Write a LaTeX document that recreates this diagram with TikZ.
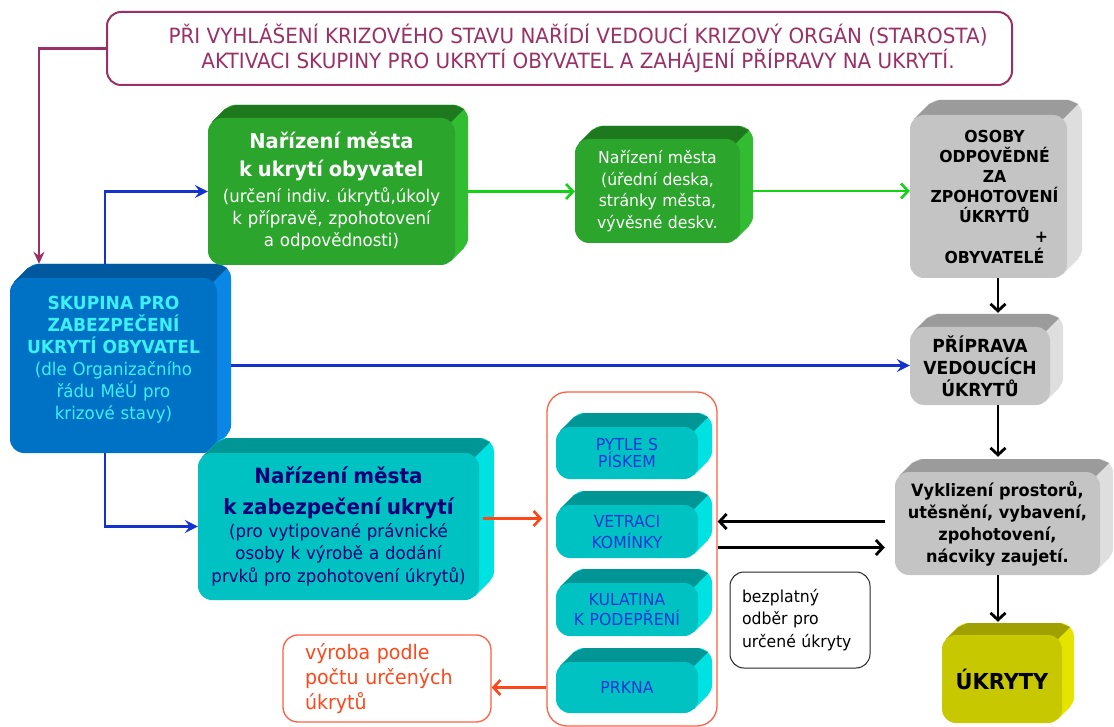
\documentclass[tikz,border=0pt]{standalone}
\usepackage{fontspec}
\setmainfont{DejaVu Sans}[FakeStretch=0.95]
\usetikzlibrary{arrows.meta}
\frenchspacing

\definecolor{grF}{RGB}{44,165,44}
\definecolor{grT}{RGB}{30,120,30}
\definecolor{grS}{RGB}{50,188,50}
\definecolor{blF}{RGB}{0,114,198}
\definecolor{blT}{RGB}{0,88,158}
\definecolor{blS}{RGB}{10,134,230}
\definecolor{cyF}{RGB}{0,194,194}
\definecolor{cyT}{RGB}{0,150,150}
\definecolor{cyS}{RGB}{0,226,226}
\definecolor{gyF}{RGB}{196,196,196}
\definecolor{gyT}{RGB}{155,155,155}
\definecolor{gyS}{RGB}{222,222,222}
\definecolor{ylF}{RGB}{200,200,0}
\definecolor{ylT}{RGB}{160,160,0}
\definecolor{ylS}{RGB}{228,228,0}
\definecolor{bannerc}{RGB}{153,48,102}
\definecolor{bluec}{RGB}{20,50,205}
\definecolor{greenc}{RGB}{20,210,20}
\definecolor{orgc}{RGB}{255,70,25}
\definecolor{orgline}{RGB}{255,95,70}
\definecolor{cyantext}{RGB}{60,240,245}
\definecolor{smalltext}{RGB}{25,55,215}
\definecolor{navytext}{RGB}{0,0,120}

\newcommand{\fs}[2]{\fontsize{#1}{#2}\selectfont}

% #1 name, #2 x1, #3 y1, #4 x2, #5 y2 (front face, px), #6 depth, #7 colour prefix, #8 node options, #9 text
\newcommand{\mycube}[9]{%
  \pgfmathsetmacro\cubeW{#4-#2}%
  \pgfmathsetmacro\cubeH{#5-#3}%
  \pgfmathsetmacro\cubeTW{#4-#2-8}%
  \pgfmathsetmacro\cubeX{(#2+#4)/2}%
  \pgfmathsetmacro\cubeY{(#3+#5)/2}%
  \fill[#7S, rounded corners=14pt] (#2+#6,#3-#6) rectangle (#4+#6,#5-#6);
  \fill[#7S] (#2+4,#3+4) -- (#2+4+#6,#3+4-#6) -- (#4+#6-4,#5-#6-4) -- (#4-4,#5-4) -- cycle;
  \fill[#7T] (#2+4,#3+4) -- (#2+4+#6,#3+4-#6) -- (#2+14+#6,#3-#6) -- (#4-14+#6,#3-#6) -- (#4+#6-4,#3-#6+4) -- (#4-4,#3+4) -- cycle;
  \node[cubeface, fill=#7F, minimum width=\cubeW pt, minimum height=\cubeH pt, text width=\cubeTW pt, #8] (#1) at (\cubeX,\cubeY) {#9};
}

\begin{document}
\begin{tikzpicture}[x=1pt,y=-1pt,
  cubeface/.style={rounded corners=14pt, inner sep=2pt, align=center},
  blu/.style={draw=bluec, line width=2.6pt, -{Stealth[length=13pt,width=13pt,inset=5pt]}},
  grn/.style={draw=greenc, line width=2.6pt, -{Straight Barb[length=7pt,width=15pt]}},
  blk/.style={draw=black, line width=2.8pt, -{Straight Barb[length=7pt,width=15pt]}},
  org/.style={draw=orgc, line width=2.6pt, -{Straight Barb[length=7pt,width=15pt]}},
  purp/.style={draw=bannerc, line width=2.2pt, -{Stealth[length=12pt,width=11pt,inset=4pt]}},
]
\useasboundingbox (0,0) rectangle (1114,727);

% banner
\node[draw=bannerc, line width=2pt, rounded corners=14pt, minimum width=905pt, minimum height=73pt,
      inner sep=0pt, text=bannerc, align=center, font=\fs{21}{25}] (banner) at (559.5,48.5)
  {\hspace*{37pt}PŘI VYHLÁŠENÍ KRIZOVÉHO STAVU NAŘÍDÍ VEDOUCÍ KRIZOVÝ ORGÁN (STAROSTA)\\
   \hspace*{37pt}AKTIVACI SKUPINY PRO UKRYTÍ OBYVATEL A ZAHÁJENÍ PŘÍPRAVY NA UKRYTÍ.};

% orange container
\node[draw=orgline, line width=1.3pt, rounded corners=20pt, minimum width=170pt, minimum height=334pt] (cont) at (632,559) {};

% 3D boxes
\mycube{skup}{10}{278}{217}{453}{14}{bl}{text=cyantext, font=\fs{17.5}{22}}
  {{\fs{18}{22}\bfseries SKUPINA PRO\\ZABEZPEČENÍ\\UKRYTÍ OBYVATEL\\}(dle Organizačního\\řádu MěÚ pro\\krizové stavy)\rule[-16pt]{0pt}{16pt}}
\mycube{green1}{208}{118}{455}{265}{13}{gr}{text=white, font=\fs{17.5}{22}}
  {{\fs{20.5}{25}\bfseries Nařízení města\\[3pt]k ukrytí obyvatel\\[4pt]}(určení indiv. úkrytů,úkoly\\k přípravě, zpohotovení\\a odpovědnosti)}
\mycube{green2}{575}{139}{740}{243}{13}{gr}{text=white, font=\fs{16.5}{21.5}}
  {Nařízení města\\(úřední deska,\\stránky města,\\vývěsné deskv.}
\mycube{osoby}{910}{115}{1067}{278}{15}{gy}{text=black, font=\fs{16.5}{20}\bfseries}
  {\hspace*{12pt}OSOBY\\\hspace*{12pt}ODPOVĚDNÉ\\\hspace*{12pt}ZA\\\hspace*{12pt}ZPOHOTOVENÍ\\\hspace*{12pt}ÚKRYTŮ\\\hspace*{106pt}+\\[1pt]\hspace*{12pt}OBYVATELÉ}
\mycube{prep}{910}{327}{1050}{405}{13}{gy}{text=black, font=\fs{18}{22}\bfseries}
  {PŘÍPRAVA\\VEDOUCÍCH\\ÚKRYTŮ}
\mycube{vykl}{895}{472}{1100}{575}{13}{gy}{text=black, font=\fs{17}{22}\bfseries}
  {Vyklizení prostorů,\\utěsnění, vybavení,\\zpohotovení,\\nácviky zaujetí.}
\mycube{ukryty}{942}{635}{1062}{723}{12}{yl}{text=black, font=\fs{22}{26}\bfseries}
  {ÚKRYTY}
\mycube{cbig}{198}{453}{479}{600}{15}{cy}{text=navytext, font=\fs{17.5}{22.5}}
  {{\fs{21}{26}\bfseries Nařízení města\\[4.5pt]k zabezpečení ukrytí\\[0.5pt]}(pro vytipované právnické\\osoby k výrobě a dodání\\prvků pro zpohotovení úkrytů)}
\mycube{pytle}{556}{427}{698}{479}{14}{cy}{text=smalltext, font=\fs{16.5}{17}}{PYTLE S\\PÍSKEM}
\mycube{vetr}{556}{505}{698}{558}{14}{cy}{text=smalltext, font=\fs{16.5}{21}}{VETRACI\\KOMÍNKY}
\mycube{kulat}{556}{583}{698}{636}{14}{cy}{text=smalltext, font=\fs{16.5}{20}}{KULATINA\\K PODEPŘENÍ}
\mycube{prkna}{556}{662}{698}{713}{14}{cy}{text=smalltext, font=\fs{16.5}{20}}{PRKNA}

% plain boxes
\node[draw=orgline, line width=1.3pt, rounded corners=15pt, minimum width=208pt, minimum height=87pt,
      text width=164pt, align=left, inner sep=0pt, text=orgc, font=\fs{20}{25}] (vyroba) at (387,678.5)
  {výroba podle\\počtu určených\\úkrytů};
\node[draw=black!85, line width=1pt, rounded corners=14pt, minimum width=140pt, minimum height=96pt,
      text width=116pt, align=left, inner sep=0pt, font=\fs{16.5}{22.5}] (bezpl) at (800,620)
  {bezplatný\\odběr pro\\určené úkryty};

% helper coordinates
\coordinate (pcol) at (39,0);
\coordinate (bcol) at (105,0);
\coordinate (kcol) at (998,0);
\coordinate (skupTop) at ([yshift=14pt]skup.north);
\coordinate (skupR) at ([xshift=14pt]skup.east);
\coordinate (prepTop) at ([yshift=14pt]prep.north);
\coordinate (vyklTop) at ([yshift=15pt]vykl.north);
\coordinate (ukrTop) at ([yshift=13pt]ukryty.north);
\coordinate (v1) at ([yshift=2pt]vykl.west);
\coordinate (v2) at ([yshift=-24pt]vykl.west);
\coordinate (o1) at ([yshift=8pt]cbig.east);

% connectors
\draw[purp] (banner.west) -| (skupTop -| pcol);
\draw[blu] (skupTop -| bcol) |- (green1.west);
\draw[blu] (skup.south -| bcol) |- (cbig.west);
\draw[blu] (skupR) -- (skupR -| prep.west);
\draw[grn] ([xshift=13pt]green1.east) -- (green1.east -| green2.west);
\draw[grn] ([xshift=13pt]green2.east) -- (green2.east -| osoby.west);
\draw[blk] (osoby.south -| kcol) -- (prepTop -| kcol);
\draw[blk] (prep.south -| kcol) -- (vyklTop -| kcol);
\draw[blk] (vykl.south -| kcol) -- (ukrTop -| kcol);
\draw[blk] ([xshift=-10pt]v1) -- (v1 -| cont.east);
\draw[blk] (v2 -| cont.east) -- ([xshift=-10pt]v2);
\draw[org, shorten >=4pt] ([xshift=4pt]o1) -- (o1 -| cont.west);
\draw[org] (cont.west |- prkna) -- (vyroba.east |- prkna);
\end{tikzpicture}
\end{document}
